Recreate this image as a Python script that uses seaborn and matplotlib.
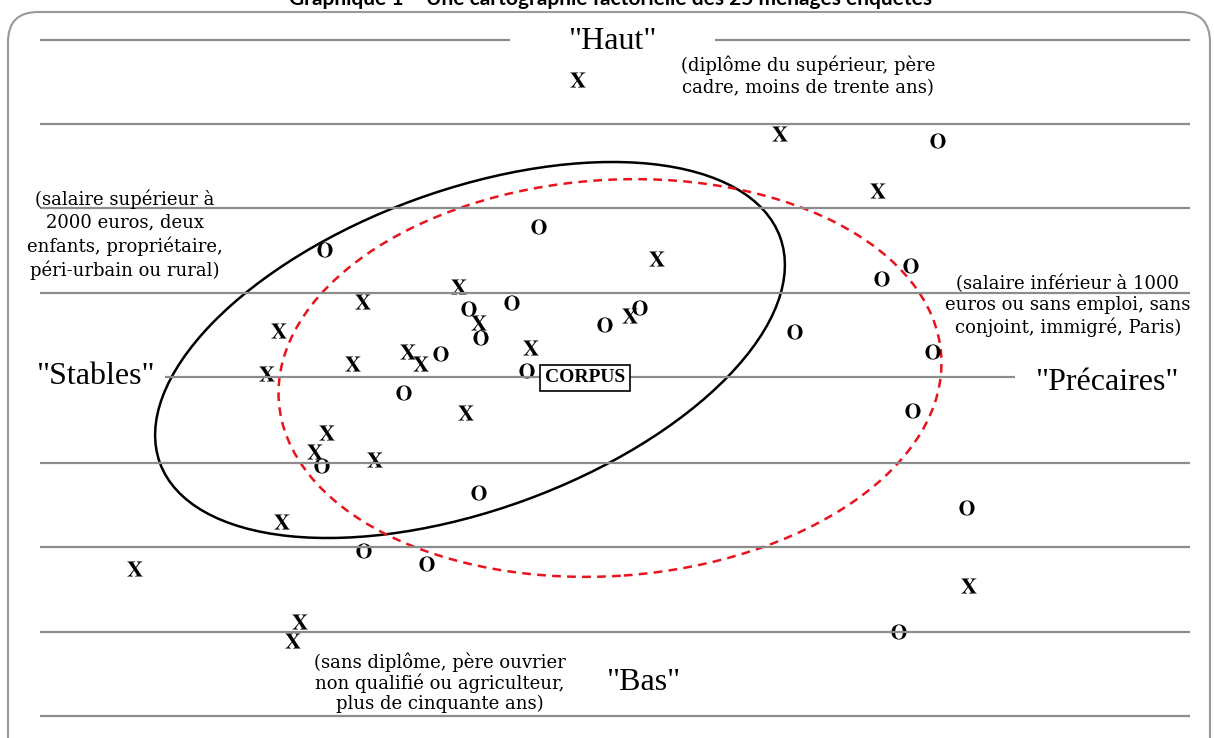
import numpy as np
import pandas as pd
import matplotlib.pyplot as plt
import seaborn as sns
from matplotlib.patches import Ellipse, FancyBboxPatch

# ------------------------------------------------------------
# Données : coordonnées factorielles des ménages (axe 1, axe 2)
# ------------------------------------------------------------
x_axe1 = [-0.07, 1.95, 2.93, 0.72, -1.26, -2.22, -3.06, -1.06, 0.45, -1.77, -1.64, -2.32,
          -0.54, -3.18, -1.19, -2.58, -2.70, -2.10, -3.03, -4.50, -2.85, -2.92, 3.84]
x_axe2 = [2.97, 2.43, 1.86, 1.18, 0.90, 0.75, 0.46, 0.54, 0.61, 0.25, 0.13, 0.13,
          0.29, 0.03, -0.36, -0.56, -0.75, -0.83, -1.45, -1.92, -2.45, -2.64, -2.09]
o_axe1 = [3.53, -0.46, -2.60, -0.73, -1.16, 0.55, 0.20, -1.04, -1.44, -0.58, -1.81,
          2.97, 3.26, 2.10, 3.48, 3.28, -2.63, -1.06, 3.82, -2.21, -1.58, 3.14]
o_axe2 = [2.36, 1.50, 1.27, 0.74, 0.68, 0.69, 0.52, 0.39, 0.23, 0.06, -0.16,
          0.98, 1.11, 0.45, 0.25, -0.34, -0.89, -1.16, -1.31, -1.74, -1.87, -2.55]

niveaux = [3.37, 2.53, 1.69, 0.84, 0.0, -0.86, -1.70, -2.55, -3.39]

titre = "Graphique 1 – Une cartographie factorielle des 25 ménages enquêtés"
note_haut = "(diplôme du supérieur, père\ncadre, moins de trente ans)"
note_stables = "(salaire supérieur à\n2000 euros, deux\nenfants, propriétaire,\npéri-urbain ou rural)"
note_precaires = "(salaire inférieur à 1000\neuros ou sans emploi, sans\nconjoint, immigré, Paris)"
note_bas = "(sans diplôme, père ouvrier\nnon qualifié ou agriculteur,\nplus de cinquante ans)"

df = pd.DataFrame({
    "axe1": x_axe1 + o_axe1,
    "axe2": x_axe2 + o_axe2,
    "groupe": ["X"] * len(x_axe1) + ["O"] * len(o_axe1),
})

# ------------------------------------------------------------
# Figure
# ------------------------------------------------------------
sns.set_theme(style="white")
plt.rcParams["mathtext.fontset"] = "stix"
plt.rcParams["font.family"] = ["Liberation Serif", "DejaVu Serif"]
plt.rcParams["text.color"] = "black"
serif_large = ["DejaVu Serif"]

fig = plt.figure(figsize=(12.14, 7.38), dpi=100)
ax = fig.add_axes([0, 0, 1, 1])
ax.set_xlim(-5.85, 6.29)
ax.set_ylim(-3.61, 3.77)
ax.axis("off")

# cadre arrondi
cadre = FancyBboxPatch((-5.77, -3.9), 12.02, 7.55,
                       boxstyle="round,pad=0,rounding_size=0.3",
                       fc="none", ec="#999999", lw=1.5)
ax.add_patch(cadre)

# lignes horizontales
for y in niveaux:
    if y == niveaux[0]:
        ax.hlines(y, -5.45, -0.75, color="#8c8c8c", lw=1.6)
        ax.hlines(y, 1.30, 6.05, color="#8c8c8c", lw=1.6)
    elif y == 0.0:
        ax.hlines(y, -4.20, 4.30, color="#8c8c8c", lw=1.6)
    else:
        ax.hlines(y, -5.45, 6.05, color="#8c8c8c", lw=1.6)

# ellipses
ax.add_patch(Ellipse((-1.15, 0.27), 6.6, 3.2, angle=20, fc="none", ec="black", lw=1.8))
ax.add_patch(Ellipse((0.25, -0.01), 6.64, 3.96, angle=4, fc="none", ec="#e8141c",
                     lw=1.8, ls=(0, (3.5, 2.5))))

# points
sns.scatterplot(data=df, x="axe1", y="axe2", style="groupe",
                markers={"X": r"$\mathbf{X}$", "O": r"$\mathbf{O}$"},
                color="black", s=120, linewidth=0, legend=False, ax=ax)

# CORPUS
ax.text(0, -0.01, "CORPUS", ha="center", va="center", fontsize=14, fontweight="bold",
        bbox=dict(boxstyle="square,pad=0.25", fc="white", ec="black", lw=1.2))

# pôles
ax.text(0.27, 3.35, '"Haut"', ha="center", va="center", fontsize=23)
ax.text(-4.90, 0.0, '"Stables"', ha="center", va="center", fontsize=23)
ax.text(5.22, -0.06, '"Précaires"', ha="center", va="center", fontsize=23)
ax.text(0.58, -3.05, '"Bas"', ha="center", va="center", fontsize=23)

# notes
ax.text(2.23, 3.01, note_haut, ha="center", va="center", fontsize=13,
        linespacing=1.3, family=serif_large)
ax.text(-4.60, 1.42, note_stables, ha="center", va="center", fontsize=13,
        linespacing=1.3, family=serif_large)
ax.text(4.83, 0.71, note_precaires, ha="center", va="center", fontsize=13,
        linespacing=1.2, family=serif_large)
ax.text(-1.45, -3.06, note_bas, ha="center", va="center", fontsize=13,
        linespacing=1.1, family=serif_large)

# titre (coupé en haut)
fig.text(0.503, 1 - 5 / 738, titre, ha="center", va="baseline", fontsize=15,
         fontweight="bold", family=["Lato", "DejaVu Sans"])

fig.savefig("out.png", dpi=100)
